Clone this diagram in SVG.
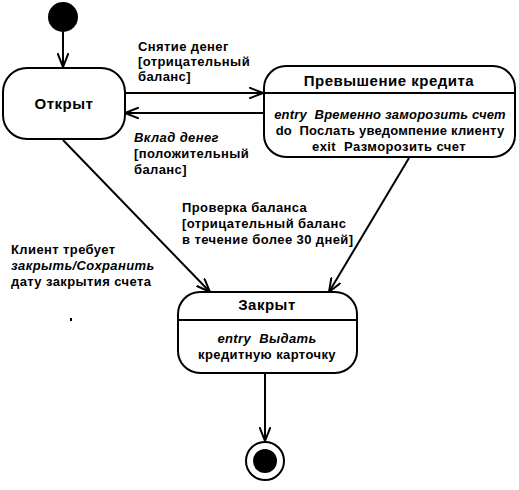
<svg xmlns="http://www.w3.org/2000/svg" width="519" height="490" viewBox="0 0 519 490">
<defs>
<style>
.st{fill:#fff;stroke:#000;stroke-width:2}
.ln{stroke:#000;stroke-width:2;fill:none}
.t{font-family:"Liberation Sans",Arial,sans-serif;font-weight:bold;font-size:13px;letter-spacing:0.4px;fill:#000;white-space:pre}
.n{font-size:15px;letter-spacing:0.5px}
.i{font-style:italic}
.c{text-anchor:middle}
.tight{letter-spacing:0.2px}
</style>
<marker id="ah" markerUnits="userSpaceOnUse" markerWidth="15" markerHeight="12" refX="14" refY="6" orient="auto" viewBox="0 0 15 12">
<path d="M0,0.5 L14,6 L0,11.5" fill="none" stroke="#000" stroke-width="2"/>
</marker>
</defs>
<rect width="519" height="490" fill="#fff"/>
<g id="connectors">
<line class="ln" x1="63" y1="32" x2="63" y2="67" marker-end="url(#ah)"/>
<line class="ln" x1="125" y1="93" x2="263" y2="93" marker-end="url(#ah)"/>
<line class="ln" x1="264" y1="113" x2="125" y2="113" marker-end="url(#ah)"/>
<line class="ln" x1="63" y1="140" x2="210" y2="292" marker-end="url(#ah)"/>
<line class="ln" x1="409" y1="158" x2="329" y2="292" marker-end="url(#ah)"/>
<line class="ln" x1="265" y1="374" x2="265" y2="441" marker-end="url(#ah)"/>
</g>
<g id="initial">
<circle cx="63" cy="17" r="15" fill="#000"/>
</g>
<g id="open">
<rect class="st" x="3" y="68" width="122" height="71" rx="24" ry="24"/>
<text class="t n c" x="64" y="109">Открыт</text>
</g>
<g id="overdraft">
<rect class="st" x="264" y="66" width="251" height="91" rx="22" ry="22"/>
<line class="ln" x1="264" y1="93" x2="515" y2="93"/>
<text class="t n c" x="389" y="86">Превышение кредита</text>
<text class="t i c tight" x="390" y="119">entry  Временно заморозить счет</text>
<text class="t c tight" x="390" y="135">do  Послать уведомпение клиенту</text>
<text class="t c" x="389" y="151">exit  Разморозить счет</text>
</g>
<g id="closed">
<rect class="st" x="178" y="292" width="179" height="81" rx="22" ry="22"/>
<line class="ln" x1="178" y1="320" x2="357" y2="320"/>
<text class="t n c" x="267" y="310">Закрыт</text>
<text class="t i c" x="267" y="343">entry  Выдать</text>
<text class="t c" x="267" y="359">кредитную карточку</text>
</g>
<g id="final">
<circle cx="265" cy="461" r="19" fill="#fff" stroke="#000" stroke-width="2"/>
<circle cx="265" cy="461" r="12" fill="#000"/>
</g>
<g id="labels">
<text class="t" x="138" y="51">Снятие денег<tspan x="138" dy="15">[отрицательный</tspan><tspan x="138" dy="15">баланс]</tspan></text>
<text class="t" x="134" y="142"><tspan class="i">Вклад денег</tspan><tspan x="134" dy="16">[положительный</tspan><tspan x="134" dy="16">баланс]</tspan></text>
<text class="t" x="182" y="212">Проверка баланса<tspan x="182" dy="16">[отрицательный баланс</tspan><tspan x="182" dy="16">в течение более 30 дней]</tspan></text>
<text class="t" x="11" y="254">Клиент требует<tspan x="11" dy="16" class="i">закрыть/Сохранить</tspan><tspan x="11" dy="16">дату закрытия счета</tspan></text>
<rect x="70" y="318" width="2" height="3" fill="#000"/>
</g>
</svg>
